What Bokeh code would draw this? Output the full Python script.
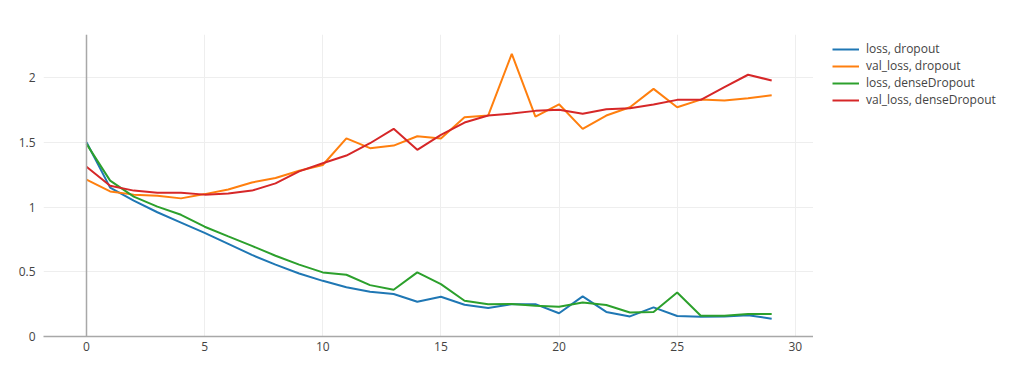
from bokeh.plotting import figure
from bokeh.layouts import row
from bokeh.models import Range1d, Legend, LegendItem, Span, CustomJSTickFormatter, FixedTicker
from bokeh.embed import file_html
from bokeh.resources import INLINE

epochs = list(range(30))
loss_dropout = [1.50, 1.15, 1.05, 0.96, 0.88, 0.80, 0.715, 0.63, 0.555, 0.487,
                0.43, 0.38, 0.346, 0.328, 0.268, 0.307, 0.245, 0.22, 0.25, 0.25,
                0.18, 0.31, 0.19, 0.155, 0.225, 0.158, 0.152, 0.155, 0.165, 0.137]
val_loss_dropout = [1.212, 1.121, 1.096, 1.088, 1.067, 1.10, 1.135, 1.19, 1.225, 1.28,
                    1.325, 1.53, 1.455, 1.475, 1.547, 1.53, 1.694, 1.707, 2.184, 1.699,
                    1.794, 1.604, 1.707, 1.771, 1.913, 1.771, 1.83, 1.823, 1.841, 1.864]
loss_dense = [1.488, 1.204, 1.08, 1.003, 0.94, 0.848, 0.773, 0.70, 0.624, 0.555,
              0.495, 0.477, 0.397, 0.361, 0.495, 0.405, 0.276, 0.25, 0.252, 0.237,
              0.23, 0.263, 0.243, 0.186, 0.19, 0.34, 0.16, 0.16, 0.173, 0.173]
val_loss_dense = [1.312, 1.165, 1.127, 1.111, 1.11, 1.096, 1.104, 1.127, 1.183, 1.276,
                  1.338, 1.398, 1.493, 1.604, 1.442, 1.557, 1.653, 1.707, 1.722, 1.743,
                  1.751, 1.72, 1.756, 1.763, 1.792, 1.828, 1.828, 1.926, 2.022, 1.978]

series_names = ["loss, dropout", "val_loss, dropout", "loss, denseDropout", "val_loss, denseDropout"]
series_colors = ["#1f77b4", "#ff7f0e", "#2ca02c", "#d62728"]
x_ticks = [0, 5, 10, 15, 20, 25, 30]
y_ticks = [0, 0.5, 1, 1.5, 2]
all_series = [loss_dropout, val_loss_dropout, loss_dense, val_loss_dense]

FONT = "Open Sans"
TXT = "#444444"

p = figure(width=813, height=373, output_backend="svg", toolbar_location=None,
           x_range=Range1d(-1.82, 30.77), y_range=Range1d(0, 2.333),
           min_border_left=43, min_border_right=0, min_border_top=34, min_border_bottom=37)
p.outline_line_color = None
p.background_fill_color = "white"
p.border_fill_color = "white"

p.xgrid.grid_line_color = "#eeeeee"
p.ygrid.grid_line_color = "#eeeeee"
p.xaxis.ticker = FixedTicker(ticks=x_ticks)
p.yaxis.ticker = FixedTicker(ticks=y_ticks)
p.xgrid.ticker = FixedTicker(ticks=x_ticks)
p.ygrid.ticker = FixedTicker(ticks=y_ticks)
p.xaxis.formatter = CustomJSTickFormatter(code="return tick.toString();")
p.yaxis.formatter = CustomJSTickFormatter(code="return tick.toString();")

for ax in (p.xaxis[0], p.yaxis[0]):
    ax.major_tick_line_color = None
    ax.minor_tick_line_color = None
    ax.major_label_text_font = FONT
    ax.major_label_text_font_size = "12px"
    ax.major_label_text_color = TXT
p.xaxis.axis_line_color = "#a8a8a8"
p.xaxis.axis_line_width = 1.5
p.yaxis.axis_line_color = None
p.xaxis.major_label_standoff = -1
p.yaxis.major_label_standoff = 2

p.add_layout(Span(location=0, dimension="height", line_color="#a8a8a8", line_width=1.5))

for ys, c in zip(all_series, series_colors):
    p.line(epochs, ys, line_color=c, line_width=2)

# legend-only panel (its lines lie outside its ranges, so only the legend shows)
lg = figure(width=211, height=373, output_backend="svg", toolbar_location=None,
            x_range=Range1d(100, 101), y_range=Range1d(100, 101),
            x_axis_location=None, y_axis_location=None,
            min_border_left=0, min_border_right=0, min_border_top=0, min_border_bottom=0)
lg.outline_line_color = None
lg.xgrid.visible = False
lg.ygrid.visible = False
lg_renderers = [lg.line(epochs, ys, line_color=c, line_width=2) for ys, c in zip(all_series, series_colors)]

legend = Legend(items=[LegendItem(label=n, renderers=[r]) for n, r in zip(series_names, lg_renderers)],
                location=(19, 228))
legend.label_text_font = FONT
legend.label_text_font_size = "12px"
legend.label_text_color = TXT
legend.glyph_width = 27
legend.glyph_height = 16
legend.label_height = 16
legend.spacing = 0
legend.padding = 4
legend.margin = 0
legend.label_standoff = 7
legend.border_line_color = None
legend.background_fill_alpha = 0
lg.add_layout(legend, "center")

layout = row(p, lg, spacing=0)
open("out.html", "w").write(file_html(layout, INLINE))
